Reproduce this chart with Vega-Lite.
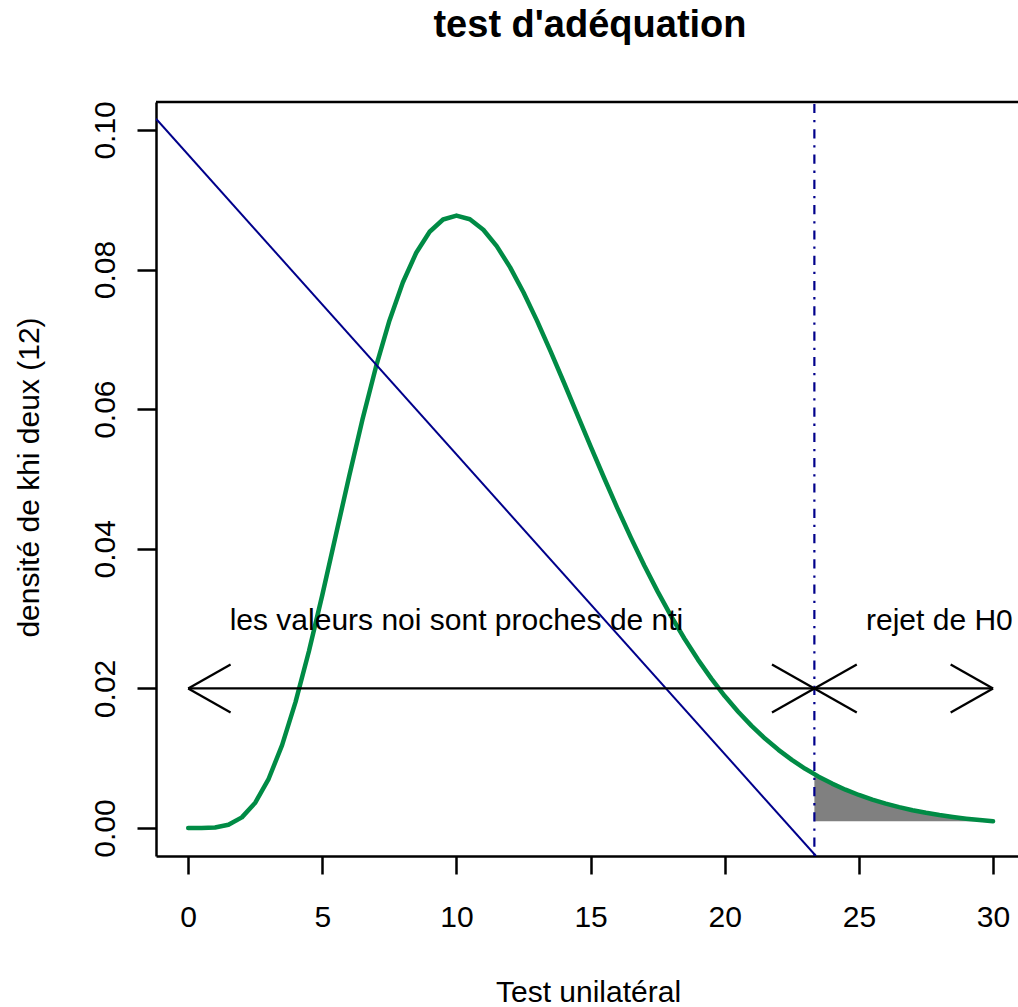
{
  "$schema": "https://vega.github.io/schema/vega-lite/v6.json",
  "width": 862,
  "height": 754,
  "autosize": {"type": "none"},
  "padding": {"left": 156, "top": 102, "right": 0, "bottom": 151},
  "background": "white",
  "title": {
    "text": "test d'adéquation",
    "font": "Liberation Sans",
    "fontSize": 38,
    "fontWeight": "bold",
    "color": "black",
    "anchor": "middle",
    "frame": "group",
    "baseline": "alphabetic",
    "offset": 26,
    "dx": 3
  },
  "config": {
    "view": {"stroke": null},
    "font": "Liberation Sans"
  },
  "datasets": {
    "curve": [
      {"x": 0, "y": 0}, {"x": 0.5, "y": 0.000003}, {"x": 1, "y": 0.000079}, {"x": 1.5, "y": 0.000467},
      {"x": 2, "y": 0.001533}, {"x": 2.5, "y": 0.003643}, {"x": 3, "y": 0.00706}, {"x": 3.5, "y": 0.011884},
      {"x": 4, "y": 0.018045}, {"x": 4.5, "y": 0.025324}, {"x": 5, "y": 0.0334}, {"x": 5.5, "y": 0.041893},
      {"x": 6, "y": 0.050409}, {"x": 6.5, "y": 0.058579}, {"x": 7, "y": 0.066085}, {"x": 7.5, "y": 0.072668},
      {"x": 8, "y": 0.078147}, {"x": 8.5, "y": 0.08241}, {"x": 9, "y": 0.085414}, {"x": 9.5, "y": 0.087168},
      {"x": 10, "y": 0.087733}, {"x": 10.5, "y": 0.087205}, {"x": 11, "y": 0.085702}, {"x": 11.5, "y": 0.083356},
      {"x": 12, "y": 0.080311}, {"x": 12.5, "y": 0.076711}, {"x": 13, "y": 0.072683}, {"x": 13.5, "y": 0.068363},
      {"x": 14, "y": 0.063858}, {"x": 14.5, "y": 0.059271}, {"x": 15, "y": 0.054686}, {"x": 15.5, "y": 0.050178},
      {"x": 16, "y": 0.045802}, {"x": 16.5, "y": 0.041604}, {"x": 17, "y": 0.037617}, {"x": 17.5, "y": 0.033865},
      {"x": 18, "y": 0.030363}, {"x": 18.5, "y": 0.027119}, {"x": 19, "y": 0.024133}, {"x": 19.5, "y": 0.021401},
      {"x": 20, "y": 0.018917}, {"x": 20.5, "y": 0.016669}, {"x": 21, "y": 0.014643}, {"x": 21.5, "y": 0.012828},
      {"x": 22, "y": 0.011208}, {"x": 22.5, "y": 0.009767}, {"x": 23, "y": 0.00849}, {"x": 23.5, "y": 0.007363},
      {"x": 24, "y": 0.00637}, {"x": 24.5, "y": 0.0055}, {"x": 25, "y": 0.004739}, {"x": 25.5, "y": 0.004075},
      {"x": 26, "y": 0.003497}, {"x": 26.5, "y": 0.002995}, {"x": 27, "y": 0.002562}, {"x": 27.5, "y": 0.002187},
      {"x": 28, "y": 0.001864}, {"x": 28.5, "y": 0.001585}, {"x": 29, "y": 0.001347}, {"x": 29.5, "y": 0.001143},
      {"x": 30, "y": 0.000968}
    ],
    "tail": [
      {"x": 23.34, "y": 0.007707, "y2": 0.000968}, {"x": 23.5, "y": 0.007363, "y2": 0.000968},
      {"x": 24, "y": 0.00637, "y2": 0.000968}, {"x": 24.5, "y": 0.0055, "y2": 0.000968},
      {"x": 25, "y": 0.004739, "y2": 0.000968}, {"x": 25.5, "y": 0.004075, "y2": 0.000968},
      {"x": 26, "y": 0.003497, "y2": 0.000968}, {"x": 26.5, "y": 0.002995, "y2": 0.000968},
      {"x": 27, "y": 0.002562, "y2": 0.000968}, {"x": 27.5, "y": 0.002187, "y2": 0.000968},
      {"x": 28, "y": 0.001864, "y2": 0.000968}, {"x": 28.5, "y": 0.001585, "y2": 0.000968},
      {"x": 29, "y": 0.001347, "y2": 0.000968}, {"x": 29.5, "y": 0.001143, "y2": 0.000968},
      {"x": 30, "y": 0.000968, "y2": 0.000968}
    ],
    "diag": [
      {"x": -1.2, "y": 0.1016},
      {"x": 23.4, "y": -0.004}
    ],
    "vline": [
      {"x": 23.34, "y": -0.004, "y2": 0.104}
    ],
    "topborder": [
      {"x": -1.2, "x2": 30.93, "y": 0.104}
    ],
    "arrows": [
      {"x": 0, "y": 0.02, "x2": 30, "y2": 0.02},
      {"x": 0, "y": 0.02, "x2": 1.58, "y2": 0.02344},
      {"x": 0, "y": 0.02, "x2": 1.58, "y2": 0.01656},
      {"x": 23.34, "y": 0.02, "x2": 21.76, "y2": 0.02344},
      {"x": 23.34, "y": 0.02, "x2": 21.76, "y2": 0.01656},
      {"x": 23.34, "y": 0.02, "x2": 24.92, "y2": 0.02344},
      {"x": 23.34, "y": 0.02, "x2": 24.92, "y2": 0.01656},
      {"x": 30, "y": 0.02, "x2": 28.42, "y2": 0.02344},
      {"x": 30, "y": 0.02, "x2": 28.42, "y2": 0.01656}
    ],
    "labels": [
      {"x": 10, "y": 0.03, "label": "les valeurs noi sont proches de nti"},
      {"x": 28, "y": 0.03, "label": "rejet de H0"}
    ]
  },
  "encoding": {
    "x": {
      "field": "x",
      "type": "quantitative",
      "scale": {"domain": [-1.2, 30.93], "nice": false, "zero": false},
      "axis": {
        "values": [0, 5, 10, 15, 20, 25, 30],
        "format": "d",
        "grid": false,
        "labelFont": "Liberation Sans",
        "labelFontSize": 30,
        "labelColor": "black",
        "labelFlush": false,
        "labelOverlap": false,
        "labelBaseline": "alphabetic",
        "labelPadding": 52,
        "tickColor": "black",
        "tickWidth": 2.5,
        "tickSize": 18,
        "domainColor": "black",
        "domainWidth": 2.5,
        "title": "Test unilatéral",
        "titleFont": "Liberation Sans",
        "titleFontSize": 30,
        "titleFontWeight": "normal",
        "titleColor": "black",
        "titleBaseline": "alphabetic",
        "titleAlign": "center",
        "titleX": 432,
        "titleY": 145
      }
    },
    "y": {
      "field": "y",
      "type": "quantitative",
      "scale": {"domain": [-0.004, 0.104], "nice": false, "zero": false},
      "axis": {
        "values": [0, 0.02, 0.04, 0.06, 0.08, 0.1],
        "format": ".2f",
        "grid": false,
        "labelFont": "Liberation Sans",
        "labelFontSize": 30,
        "labelColor": "black",
        "labelAngle": 270,
        "labelAlign": "center",
        "labelBaseline": "alphabetic",
        "labelFlush": false,
        "labelOverlap": false,
        "labelPadding": 23,
        "tickColor": "black",
        "tickWidth": 2.5,
        "tickSize": 19,
        "domainColor": "black",
        "domainWidth": 2.5,
        "title": "densité de khi deux (12)",
        "titleFont": "Liberation Sans",
        "titleFontSize": 30,
        "titleFontWeight": "normal",
        "titleColor": "black",
        "titleAngle": 270,
        "titleAlign": "center",
        "titleBaseline": "alphabetic",
        "titleX": -118,
        "titleY": 375
      }
    }
  },
  "layer": [
    {
      "data": {"name": "tail"},
      "mark": {"type": "area", "color": "#808080", "opacity": 1},
      "encoding": {"y2": {"field": "y2"}}
    },
    {
      "data": {"name": "curve"},
      "mark": {"type": "line", "color": "#008B45", "strokeWidth": 4.5, "strokeJoin": "round", "strokeCap": "round"},
      "encoding": {}
    },
    {
      "data": {"name": "diag"},
      "mark": {"type": "line", "color": "#00008B", "strokeWidth": 2, "clip": true},
      "encoding": {}
    },
    {
      "data": {"name": "vline"},
      "mark": {"type": "rule", "color": "#00008B", "strokeWidth": 2.2, "strokeDash": [2.3, 6.9, 9.2, 6.9]},
      "encoding": {"y2": {"field": "y2"}}
    },
    {
      "data": {"name": "arrows"},
      "mark": {"type": "rule", "color": "black", "strokeWidth": 2.3},
      "encoding": {"x2": {"field": "x2"}, "y2": {"field": "y2"}}
    },
    {
      "data": {"name": "labels"},
      "mark": {"type": "text", "font": "Liberation Sans", "fontSize": 30, "color": "black", "align": "center", "baseline": "alphabetic", "dy": 11},
      "encoding": {"text": {"field": "label"}}
    },
    {
      "data": {"name": "topborder"},
      "mark": {"type": "rule", "color": "black", "strokeWidth": 2.5},
      "encoding": {"x2": {"field": "x2"}}
    }
  ]
}
